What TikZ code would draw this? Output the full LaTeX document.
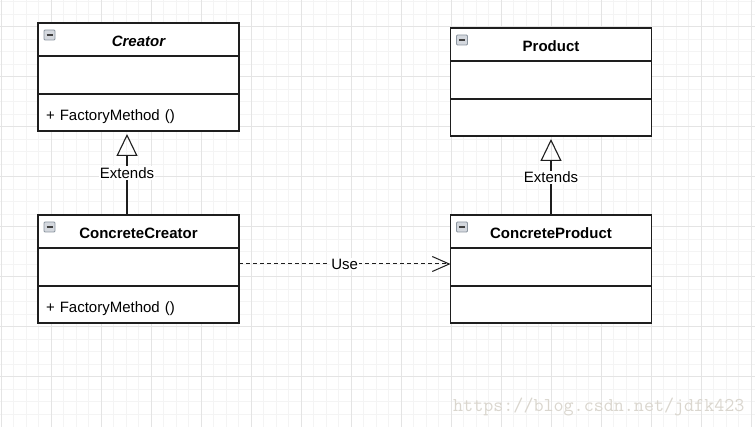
\documentclass[tikz,border=0pt]{standalone}
\usepackage{fontspec}
\setmainfont{Liberation Sans}
\usetikzlibrary{positioning,arrows.meta}

\definecolor{umlline}{RGB}{30,30,30}
\definecolor{gridmajor}{RGB}{228,228,228}
\definecolor{gridminor}{RGB}{244,244,244}
\definecolor{iconframe}{RGB}{140,150,160}
\definecolor{iconfill}{RGB}{212,216,222}
\definecolor{markcolor}{RGB}{218,214,206}

\newcommand{\umlfont}{\fontsize{15pt}{17pt}\selectfont}

\tikzset{
  umlpart/.style={draw=umlline, line width=1.2pt, fill=white, minimum width=201pt,
    inner sep=0pt, outer sep=0pt, font=\umlfont},
  classhead/.style={umlpart, minimum height=33pt, text height=15pt, text depth=0pt,
    font=\umlfont\bfseries,
    path picture={
      \draw[iconframe, fill=iconfill, rounded corners=1pt, line width=0.8pt]
        ([xshift=6pt,yshift=-7pt]path picture bounding box.north west) rectangle ++(11pt,-10pt);
      \draw[black!75, line width=1.4pt]
        ([xshift=8.5pt,yshift=-12pt]path picture bounding box.north west) -- ++(6pt,0pt);
    }},
  classattr/.style={umlpart, minimum height=38pt},
  classops/.style={umlpart, minimum height=37pt, text width=185pt, align=left,
    inner xsep=8pt, text height=16pt, text depth=0pt},
  edgelabel/.style={fill=white, inner sep=1pt, font=\umlfont},
  extends/.style={draw=umlline, line width=1.1pt, shorten >=3pt,
    -{Triangle[open, length=22pt, width=21pt, line width=1.1pt]}},
  uses/.style={draw=umlline, line width=1pt, dash pattern=on 4pt off 3pt,
    -{Straight Barb[length=17pt, width=15pt, line width=1pt]}},
}

\begin{document}
\begin{tikzpicture}[x=1pt, y=-1pt]
  % page and grid
  \useasboundingbox (0,0) rectangle (755,427);
  \fill[white] (0,0) rectangle (755,427);
  \foreach \gx in {1,13.5,...,755} \draw[gridminor, line width=1pt] (\gx,0) -- (\gx,427);
  \foreach \gy in {2,14.5,...,427} \draw[gridminor, line width=1pt] (0,\gy) -- (755,\gy);
  \foreach \gx in {1,51,...,755} \draw[gridmajor, line width=1pt] (\gx,0) -- (\gx,427);
  \foreach \gy in {27,77,...,427} \draw[gridmajor, line width=1pt] (0,\gy) -- (755,\gy);

  % Creator
  \node[classhead] (creator) at (138.5,39.5) {\itshape Creator};
  \node[classattr, below=0pt of creator] (creatorAttr) {};
  \node[classops, below=0pt of creatorAttr] (creatorOps) {+ FactoryMethod ()};

  % ConcreteCreator
  \node[classhead] (concreteCreator) at (138.5,231.5) {ConcreteCreator};
  \node[classattr, below=0pt of concreteCreator] (concreteCreatorAttr) {};
  \node[classops, below=0pt of concreteCreatorAttr] (concreteCreatorOps) {+ FactoryMethod ()};

  % Product
  \node[classhead] (product) at (551,44.5) {Product};
  \node[classattr, below=0pt of product] (productAttr) {};
  \node[classattr, minimum height=37pt, below=0pt of productAttr] (productOps) {};

  % ConcreteProduct
  \node[classhead] (concreteProduct) at (551,231.5) {ConcreteProduct};
  \node[classattr, below=0pt of concreteProduct] (concreteProductAttr) {};
  \node[classattr, minimum height=37pt, below=0pt of concreteProductAttr] (concreteProductOps) {};

  % relations
  \draw[extends] ([xshift=-11.5pt]concreteCreator.north) -- node[edgelabel] {Extends}
    ([xshift=-11.5pt]creatorOps.south);
  \draw[extends] (concreteProduct.north) -- node[edgelabel, yshift=-2pt] {Extends} (productOps.south);
  \draw[uses] ([yshift=3pt]concreteCreatorAttr.east) -- node[edgelabel] {Use}
    ([yshift=3pt]concreteProductAttr.west);

  % watermark
  \node[anchor=base west, inner sep=0pt, text=markcolor,
    font=\fontsize{19.5pt}{19.5pt}\selectfont\ttfamily] (mark) at (453,412)
    {https://blog.csdn.net/jdfk423};
\end{tikzpicture}
\end{document}
